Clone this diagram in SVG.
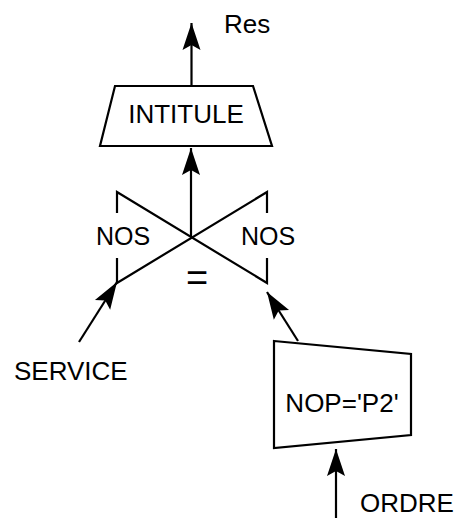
<svg xmlns="http://www.w3.org/2000/svg" width="459" height="518" viewBox="0 0 459 518">
  <style>
    .lbl { font-family: "Liberation Sans", Arial, sans-serif; font-size: 26px; fill: #000; }
    .mid { text-anchor: middle; }
    .shape { fill: #fff; stroke: #000; stroke-width: 2.2; stroke-linejoin: miter; }
    .edge { fill: none; stroke: #000; stroke-width: 2.2; }
    .conn { fill: none; stroke: #000; stroke-width: 2.2; marker-end: url(#head); }
  </style>
  <defs>
    <marker id="head" markerUnits="userSpaceOnUse" markerWidth="30" markerHeight="22" viewBox="-28 -10 30 20" refX="0" refY="0" orient="auto" overflow="visible">
      <path d="M0,0 L-27,-9 L-22,0 L-27,9 Z" fill="#000"/>
    </marker>
  </defs>
  <rect width="459" height="518" fill="#fff"/>

  <!-- projection node -->
  <g id="intitule">
    <path class="shape" d="M115,86 L253,86 L272,146 L100,146 Z"/>
    <text class="lbl mid" x="186" y="123">INTITULE</text>
  </g>

  <!-- join node: two facing triangles -->
  <g id="join">
    <polyline class="edge" points="117,213 117,192 267,283 267,258"/>
    <polyline class="edge" points="117,258 117,283 267,192 267,213"/>
    <text class="lbl mid" x="123" y="245" style="font-size:25px">NOS</text>
    <text class="lbl mid" x="268" y="245" style="font-size:25px">NOS</text>
    <text class="lbl mid" x="197" y="291" style="font-size:38px">=</text>
  </g>

  <!-- selection node -->
  <g id="selection">
    <path class="shape" d="M274,341 L411,354 L411,435 L274,448 Z"/>
    <text class="lbl mid" x="342" y="412">NOP='P2'</text>
  </g>

  <g id="res"><text class="lbl" x="224" y="33">Res</text></g>
  <g id="service"><text class="lbl" x="14" y="380">SERVICE</text></g>
  <g id="ordre"><text class="lbl" x="360" y="512">ORDRE</text></g>

  <g id="connectors">
    <line class="conn" x1="191.5" y1="86" x2="191.5" y2="23"/>
    <line class="conn" x1="191" y1="237" x2="191" y2="148"/>
    <line class="conn" x1="79" y1="342" x2="117" y2="282"/>
    <line class="conn" x1="298" y1="341" x2="267" y2="292"/>
    <line class="conn" x1="336" y1="518" x2="336" y2="449"/>
  </g>
</svg>
